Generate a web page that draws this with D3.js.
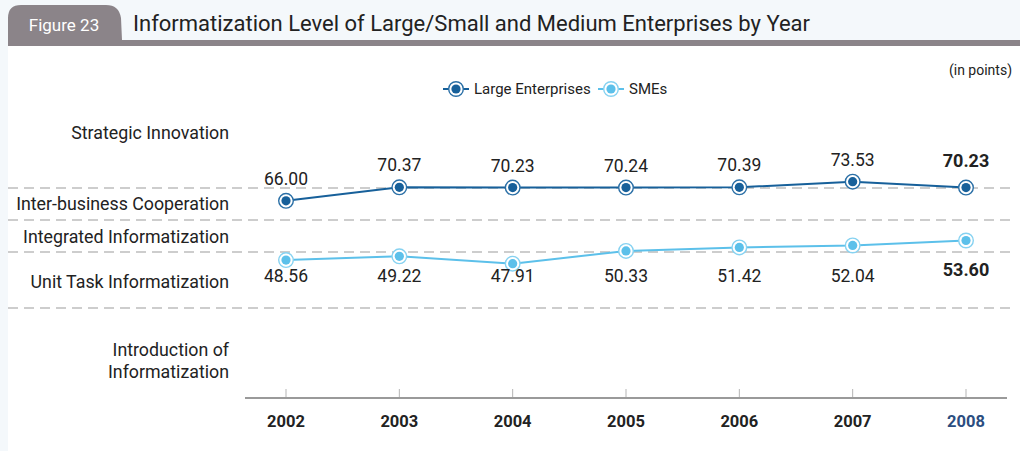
<!DOCTYPE html>
<html>
<head>
<meta charset="utf-8">
<script src="https://cdn.jsdelivr.net/npm/d3@7"></script>
<style>
  html, body { margin: 0; padding: 0; background: #f4f8fb; }
  svg { display: block; font-family: Roboto, "Noto Sans", sans-serif; }
</style>
</head>
<body>
<svg id="chart" width="1020" height="451"></svg>
<script>
// Years on the x axis
const years = ["2002", "2003", "2004", "2005", "2006", "2007", "2008"];
// Informatization level scores (points)
const largeScores = [66.00, 70.37, 70.23, 70.24, 70.39, 73.53, 70.23];
const smeScores = [48.56, 49.22, 47.91, 50.33, 51.42, 52.04, 53.60];
// Level bands, top to bottom
const levelNames = ["Strategic Innovation", "Inter-business  Cooperation", "Integrated Informatization", "Unit Task Informatization", "Introduction of|Informatization"];
const levelBounds = [70, 60, 50, 40];
const seriesNames = ["Large Enterprises", "SMEs"];

const W = 1020, H = 451;
const svg = d3.select("#chart");

const colors = { large: "#17609a", largeRing: "#2a6fa6", sme: "#5cc0ea", smeRing: "#86d2f1" };

// page panels
svg.append("rect").attr("x", 8).attr("y", 46).attr("width", W - 8).attr("height", H - 46).attr("fill", "#ffffff");

// header tab + bar
const tabColor = "#8b8489";
svg.append("path")
  .attr("d", "M8,46 L8,18 Q8,5 21,5 L106,5 Q119,5 121,18 L122,40 L1020,40 L1020,46 Z")
  .attr("fill", tabColor);
svg.append("text").attr("x", 64).attr("y", 31).attr("text-anchor", "middle")
  .attr("fill", "#ffffff").attr("font-size", 17).text("Figure 23");
svg.append("text").attr("x", 133).attr("y", 31)
  .attr("fill", "#222").attr("font-size", 22)
  .text("Informatization Level of Large/Small and Medium Enterprises by Year");

// scales
const x = d3.scalePoint().domain(years).range([286, 966]);
const y = d3.scaleLinear().domain([0, 40, 50, 70, 80]).range([398, 308, 252, 188, 170]);

// band separators
svg.append("g").selectAll("line").data(levelBounds).join("line")
  .attr("x1", 8).attr("x2", 1010)
  .attr("y1", d => y(d)).attr("y2", d => y(d))
  .attr("stroke", "#bdbdbd").attr("stroke-width", 1.3)
  .attr("stroke-dasharray", "10,6");

// band labels
const labelY = [133, 204, 237, 282, 350];
const bandG = svg.append("g").attr("font-size", 17.8).attr("fill", "#222").attr("text-anchor", "end");
levelNames.forEach((name, i) => {
  const t = bandG.append("text").attr("x", 229).attr("y", labelY[i]);
  name.split("|").forEach((part, j) => {
    t.append("tspan").attr("x", 229).attr("dy", j === 0 ? "0.35em" : 22).text(part);
  });
});

// x axis
const axis = svg.append("g").attr("transform", "translate(0,398)");
axis.append("line").attr("x1", 245).attr("x2", 1007).attr("stroke", "#9a9a9a").attr("stroke-width", 2.2);
axis.selectAll("line.tick").data(years).join("line").attr("class", "tick")
  .attr("x1", d => x(d)).attr("x2", d => x(d)).attr("y1", -1).attr("y2", -9)
  .attr("stroke", "#b5b5b5").attr("stroke-width", 1);
axis.selectAll("text").data(years).join("text")
  .attr("x", d => x(d)).attr("y", 23).attr("dy", "0.35em").attr("text-anchor", "middle")
  .attr("font-size", 16.5).attr("font-weight", 700)
  .attr("fill", (d, i) => i === years.length - 1 ? "#2b4d80" : "#222")
  .text(d => d);

// markers
function marker(g, cx, cy, fill, ring) {
  g.append("circle").attr("cx", cx).attr("cy", cy).attr("r", 7.3)
    .attr("fill", "#ffffff").attr("stroke", ring).attr("stroke-width", 1.4);
  g.append("circle").attr("cx", cx).attr("cy", cy).attr("r", 4.6).attr("fill", fill);
}

const line = d3.line().x((d, i) => x(years[i])).y(d => y(d));

function drawSeries(values, fill, ring, labelPos) {
  const g = svg.append("g");
  g.append("path").datum(values).attr("d", line)
    .attr("fill", "none").attr("stroke", fill).attr("stroke-width", 2);
  values.forEach((v, i) => marker(g, x(years[i]), y(v), fill, ring));
  const last = values.length - 1;
  g.selectAll("text").data(values).join("text")
    .attr("x", (d, i) => x(years[i]))
    .attr("y", (d, i) => labelPos(d, i, i === last))
    .attr("dy", "0.35em").attr("text-anchor", "middle")
    .attr("font-size", (d, i) => i === last ? 18 : 17.5)
    .attr("font-weight", (d, i) => i === last ? 700 : 400)
    .attr("fill", "#222")
    .text(d => d.toFixed(2));
}

drawSeries(largeScores, colors.large, colors.largeRing, (d, i, isLast) => y(d) - (isLast ? 27 : 22));
drawSeries(smeScores, colors.sme, colors.smeRing, (d, i, isLast) => isLast ? 270 : 276);

// legend
const legend = svg.append("g").attr("font-size", 15).attr("fill", "#222");
[[443, colors.large, colors.largeRing, seriesNames[0]], [598, colors.sme, colors.smeRing, seriesNames[1]]].forEach(([lx, c, r, name]) => {
  legend.append("line").attr("x1", lx).attr("x2", lx + 26).attr("y1", 89).attr("y2", 89)
    .attr("stroke", c).attr("stroke-width", 2);
  marker(legend, lx + 13, 89, c, r);
  legend.append("text").attr("x", lx + 31).attr("y", 89).attr("dy", "0.35em").text(name);
});

svg.append("text").attr("x", 1012).attr("y", 70).attr("dy", "0.35em").attr("text-anchor", "end")
  .attr("font-size", 14).attr("fill", "#222").text("(in points)");
</script>
</body>
</html>
